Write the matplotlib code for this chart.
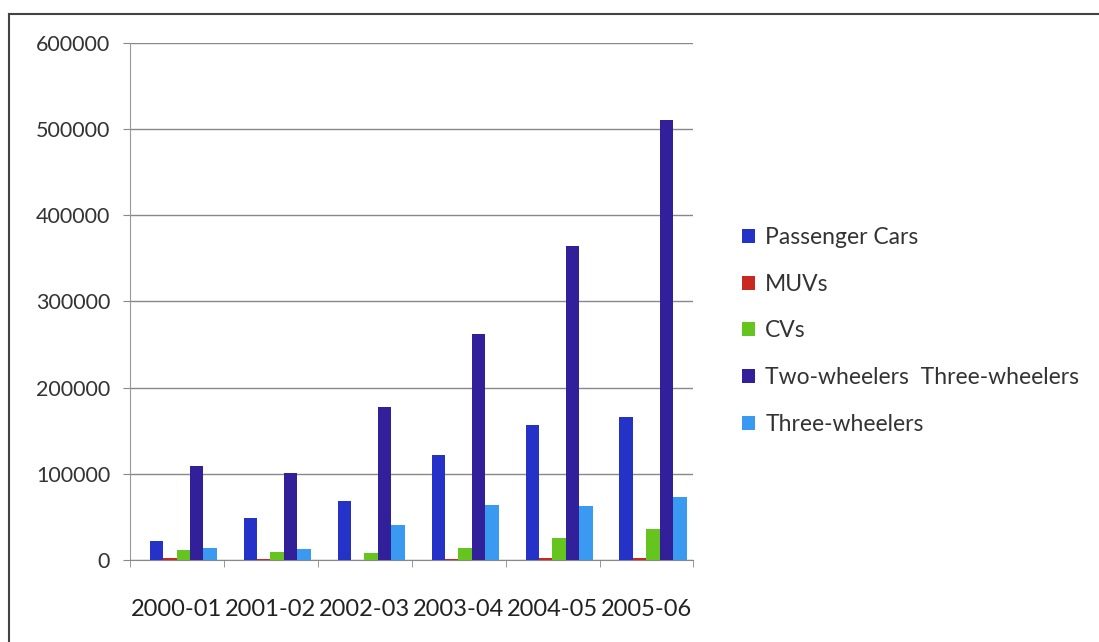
import numpy as np
import matplotlib.pyplot as plt
from matplotlib.lines import Line2D

years = ['2000-01', '2001-02', '2002-03', '2003-04', '2004-05', '2005-06']
passenger_cars = [22000, 48000, 68000, 122000, 157000, 166000]
muvs = [2000, 1000, 300, 500, 2000, 2500]
cvs = [11000, 9000, 8000, 14000, 25000, 36000]
two_wheelers = [109000, 101000, 178000, 262000, 364000, 511000]
three_wheelers = [14000, 12000, 40000, 64000, 62000, 73000]

series = [passenger_cars, muvs, cvs, two_wheelers, three_wheelers]
labels = ['Passenger Cars', 'MUVs', 'CVs', 'Two-wheelers  Three-wheelers', 'Three-wheelers']
colors = ['#2432c8', '#c8281e', '#66c41e', '#32209a', '#3a9af2']

plt.rcParams['font.family'] = ['Lato', 'DejaVu Sans']

fig = plt.figure(figsize=(10.99, 6.42), dpi=100)
ax = fig.add_axes([0.118, 0.128, 0.513, 0.805])

x = np.arange(len(years))
w = 0.143
for i, (vals, lab, col) in enumerate(zip(series, labels, colors)):
    ax.bar(x + (i - 2) * w + 0.07, vals, width=w, color=col, label=lab, zorder=3)

ax.set_xlim(-0.5, len(years) - 0.5)
ax.set_ylim(0, 600000)
ax.set_yticks(np.arange(0, 600001, 100000))
ax.set_yticklabels([str(v) for v in range(0, 600001, 100000)], fontsize=15.5, color='#333333')
ax.set_xticks(x)
ax.set_xticklabels(years, fontsize=17, color='#222222')
ax.set_xticks(np.arange(-0.5, len(years)), minor=True)
ax.tick_params(axis='x', which='major', length=0, pad=28)
ax.tick_params(axis='x', which='minor', length=5, color='#888888')
ax.tick_params(axis='y', length=5, color='#888888', pad=9)
ax.grid(axis='y', color='#888888', linewidth=1, zorder=0)
for s in ['top', 'right']:
    ax.spines[s].set_visible(False)
ax.spines['left'].set_color('#999999')
ax.spines['bottom'].set_color('#888888')

ax.legend(loc='center left', bbox_to_anchor=(1.05, 0.443), frameon=False, fontsize=16.5,
          handlelength=0.55, handleheight=0.55, handletextpad=0.45, labelspacing=1.12,
          labelcolor='#333333')

# outer frame: only top and left edges are visible
fig.add_artist(Line2D([9 / 1099, 1], [1 - 14 / 642, 1 - 14 / 642], transform=fig.transFigure,
                      color='#444444', linewidth=1.5))
fig.add_artist(Line2D([9 / 1099, 9 / 1099], [0, 1 - 14 / 642], transform=fig.transFigure,
                      color='#444444', linewidth=1.5))

fig.savefig('out.png', dpi=100)
